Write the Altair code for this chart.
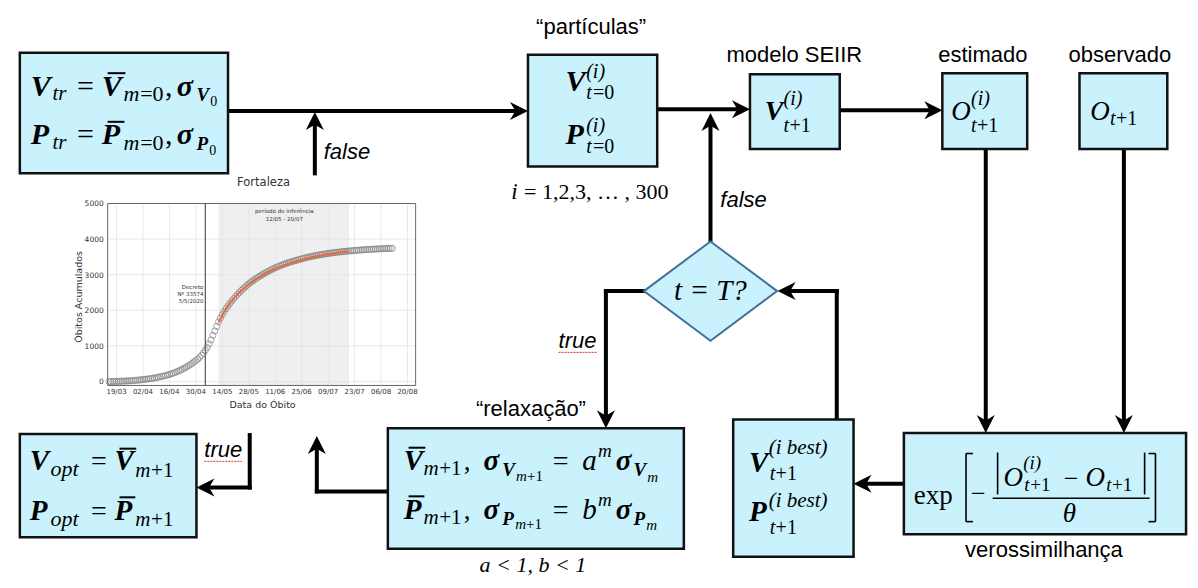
import altair as alt
import pandas as pd

W, H = 1182, 572
SX = alt.Scale(domain=[0, 1198], range=[0, W], nice=False, zero=False)
SY = alt.Scale(domain=[0, 588], range=[0, H], nice=False, zero=False)

FILL = "#C9F2FC"

# ---------------- inset chart data (Fortaleza) ----------------
INSET_DAYS = list(range(-4, 147))
INSET_DEATHS = [0, 1, 2, 3, 5,
                6, 8, 10, 12, 15, 18, 21, 25, 29, 33,
                38, 43, 49, 55, 61, 68, 75, 83, 91, 100,
                110, 120, 131, 143, 156, 170, 185, 200, 218, 236,
                256, 277, 300, 325, 352, 380, 410, 442, 476, 512,
                550, 590, 634, 680, 738, 800, 875, 960, 1060, 1170,
                1295, 1420, 1550, 1680, 1785, 1880, 1968, 2050, 2125, 2195,
                2262, 2325, 2386, 2445, 2501, 2555, 2606, 2655, 2701, 2745,
                2786, 2825, 2862, 2898, 2932, 2965, 2998, 3030, 3060, 3090,
                3118, 3145, 3171, 3195, 3218, 3240, 3261, 3282, 3301, 3320,
                3338, 3355, 3372, 3388, 3403, 3418, 3433, 3447, 3461, 3474,
                3487, 3499, 3511, 3522, 3533, 3543, 3553, 3562, 3571, 3580,
                3589, 3597, 3605, 3612, 3619, 3626, 3633, 3639, 3645, 3651,
                3657, 3662, 3667, 3672, 3677, 3681, 3686, 3690, 3694, 3698,
                3702, 3705, 3709, 3712, 3715, 3718, 3721, 3724, 3726, 3729,
                3731, 3734, 3736, 3738, 3740, 3742]
FIT_DAYS = [54, 57, 60, 64, 68, 72, 76, 80, 84, 88, 92, 96, 100, 104, 108, 112, 116, 120, 123]
FIT_VALUES = [1660, 1960, 2200, 2450, 2650, 2810, 2950, 3070, 3170, 3255, 3330, 3395, 3450, 3500, 3540, 3578, 3610, 3640, 3660]
XTICK_DAYS = [0, 14, 28, 42, 56, 70, 84, 98, 112, 126, 140, 154]
XTICK_LABELS = ["19/03", "02/04", "16/04", "30/04", "14/05", "28/05", "11/06", "25/06", "09/07", "23/07", "06/08", "20/08"]
YTICKS = [0, 1000, 2000, 3000, 4000, 5000]
INFER_PERIOD = [54, 123]
DECRETO_DAY = 47
FRAME = [-4.7, 158.3, -110, 5000]

# inset placement (reference pixels)
IX0, IPX, IY0, IPY = 110, 1.915, 384, 0.0366

# ---------------- diagram data ----------------
BOXES = [(12, 46, 223, 170), (527, 48, 658, 163), (752, 68, 843, 145), (947, 67, 1033, 145),
         (1086, 67, 1175, 145), (908, 437, 1194, 541), (735, 423, 857, 564), (385, 432, 685, 556),
         (12, 438, 191, 544)]
LINES = [(223, 106, 518, 106), (311, 170, 311, 116), (658, 104, 743, 104), (712, 240, 712, 117),
         (843, 105, 938, 105), (991, 145, 991, 428), (1131, 145, 1131, 428), (908, 489, 866, 489),
         (840, 423, 840, 291), (840, 291, 789, 291), (645, 291, 606, 291), (606, 291, 606, 423),
         (385, 497, 313, 497), (313, 497, 313, 449), (245, 439, 245, 493), (245, 493, 200, 493)]
HEADS = [(527, 106, 0), (311, 107, 270), (752, 104, 0), (712, 108, 270), (947, 105, 0),
         (991, 437, 90), (1131, 437, 90), (857, 489, 180), (780, 291, 180), (606, 432, 90),
         (313, 440, 270), (191, 493, 180)]
THIN = [(971, 458, 971, 528), (971, 458, 978, 458), (971, 528, 978, 528),
        (1163, 458, 1163, 528), (1156, 458, 1163, 458), (1156, 528, 1163, 528),
        (1003, 457, 1003, 500), (1152, 457, 1152, 500), (998, 504, 1157, 504)]
BARS = [(101, 119, 67), (101, 118, 117), (406, 423, 452), (406, 422, 502), (113, 130, 453), (113, 129, 503)]
SQUIGGLES = [(558, 354, 597, 354), (199, 466, 237, 466)]
DIAMOND = (712, 291)

PIECES = [
    # initial box
    ("V", 23, 90, 30, "bi", "left"), ("tr", 45, 95, 21, "i", "left"), ("=", 70, 90, 30, "n", "left"),
    ("V", 95, 90, 30, "bi", "left"), ("m", 117, 96, 22, "i", "left"), ("=0", 134, 96, 22, "n", "left"),
    (",", 159, 90, 30, "n", "left"), ("σ", 171, 90, 30, "bi", "left"), ("V", 191, 96, 19, "bi", "left"),
    ("0", 205, 101, 14, "n", "left"),
    ("P", 23, 140, 30, "bi", "left"), ("tr", 45, 145, 21, "i", "left"), ("=", 70, 140, 30, "n", "left"),
    ("P", 95, 140, 30, "bi", "left"), ("m", 117, 146, 22, "i", "left"), ("=0", 134, 146, 22, "n", "left"),
    (",", 159, 140, 30, "n", "left"), ("σ", 171, 140, 30, "bi", "left"), ("P", 191, 146, 19, "bi", "left"),
    ("0", 204, 151, 14, "n", "left"),
    # particles
    ("V", 565, 85, 30, "bi", "left"), ("(i)", 586, 72, 20, "i", "left"), ("t", 586, 94, 20, "i", "left"),
    ("=0", 593, 94, 20, "n", "left"),
    ("P", 565, 140, 30, "bi", "left"), ("(i)", 586, 127, 20, "i", "left"), ("t", 586, 149, 20, "i", "left"),
    ("=0", 593, 149, 20, "n", "left"),
    ("i", 510, 196, 23, "i", "left"), ("= 1,2,3, … , 300", 523, 196, 22, "n", "left"),
    # SEIIR
    ("V", 767, 115, 28, "bi", "left"), ("(i)", 786, 100, 20, "i", "left"), ("t", 786, 127, 20, "i", "left"),
    ("+1", 792, 127, 20, "n", "left"),
    # estimado
    ("O", 956, 115, 27, "i", "left"), ("(i)", 976, 100, 20, "i", "left"), ("t", 976, 127, 20, "i", "left"),
    ("+1", 982, 127, 20, "n", "left"),
    # observado
    ("O", 1097, 115, 27, "i", "left"), ("t", 1117, 120, 20, "i", "left"), ("+1", 1123, 120, 20, "n", "left"),
    # diamond
    ("t = T?", 712, 300, 29, "i", "center"),
    # relaxacao
    ("V", 401, 475, 29, "bi", "left"), ("m", 421, 480, 21, "i", "left"), ("+1", 437, 480, 21, "n", "left"),
    (",", 462, 475, 27, "n", "left"), ("σ", 482, 475, 29, "bi", "left"), ("V", 501, 481, 19, "bi", "left"),
    ("m", 515, 486, 15, "i", "left"), ("+1", 526, 486, 15, "n", "left"), ("=", 552, 475, 28, "n", "left"),
    ("a", 582, 475, 29, "i", "left"), ("m", 598, 462, 19, "i", "left"), ("σ", 616, 475, 29, "bi", "left"),
    ("V", 634, 481, 19, "bi", "left"), ("m", 648, 487, 15, "i", "left"),
    ("P", 401, 525, 29, "bi", "left"), ("m", 421, 530, 21, "i", "left"), ("+1", 437, 530, 21, "n", "left"),
    (",", 462, 525, 27, "n", "left"), ("σ", 482, 525, 29, "bi", "left"), ("P", 501, 531, 19, "bi", "left"),
    ("m", 514, 536, 15, "i", "left"), ("+1", 525, 536, 15, "n", "left"), ("=", 552, 525, 28, "n", "left"),
    ("b", 582, 525, 29, "i", "left"), ("m", 598, 512, 19, "i", "left"), ("σ", 616, 525, 29, "bi", "left"),
    ("P", 634, 531, 19, "bi", "left"), ("m", 647, 537, 15, "i", "left"),
    ("a < 1, b < 1", 532, 580, 22, "i", "center"),
    # optimum
    ("V", 22, 475, 29, "bi", "left"), ("opt", 43, 481, 22, "i", "left"), ("=", 84, 475, 28, "n", "left"),
    ("V", 108, 475, 29, "bi", "left"), ("m", 129, 482, 21, "i", "left"), ("+1", 145, 482, 21, "n", "left"),
    ("P", 22, 526, 29, "bi", "left"), ("opt", 43, 532, 22, "i", "left"), ("=", 84, 526, 28, "n", "left"),
    ("P", 108, 526, 29, "bi", "left"), ("m", 129, 533, 21, "i", "left"), ("+1", 145, 533, 21, "n", "left"),
    # best
    ("V", 751, 477, 29, "bi", "left"), ("(i best)", 771, 458, 21, "i", "left"), ("t", 772, 485, 20, "i", "left"),
    ("+1", 778, 485, 20, "n", "left"),
    ("P", 751, 527, 29, "bi", "left"), ("(i best)", 771, 513, 21, "i", "left"), ("t", 772, 541, 20, "i", "left"),
    ("+1", 778, 541, 20, "n", "left"),
    # likelihood
    ("exp", 918, 510, 27, "n", "left"), ("−", 976, 508, 26, "n", "left"),
    ("O", 1009, 491, 27, "i", "left"), ("(i)", 1029, 474, 19, "i", "left"), ("t", 1030, 497, 19, "i", "left"),
    ("+1", 1036, 497, 19, "n", "left"), ("−", 1070, 492, 26, "n", "left"),
    ("O", 1092, 491, 27, "i", "left"), ("t", 1113, 497, 19, "i", "left"), ("+1", 1119, 497, 19, "n", "left"),
    ("θ", 1069, 528, 27, "i", "left"),
    # labels
    ("“partículas”", 591, 27, 22, "s", "center"), ("modelo SEIIR", 797, 56, 22, "s", "center"),
    ("estimado", 988, 56, 22, "s", "center"), ("observado", 1127, 56, 22, "s", "center"),
    ("“relaxação”", 530, 419, 22, "s", "center"), ("verossimilhança", 1050, 564, 22, "s", "center"),
    ("false", 320, 155, 22, "si", "left"), ("false", 722, 205, 22, "si", "left"),
    ("true", 558, 350, 22, "si", "left"), ("true", 199, 462, 22, "si", "left"),
]

FONTS = {
    "bi": dict(font="Liberation Serif", fontWeight="bold", fontStyle="italic"),
    "i": dict(font="Liberation Serif", fontStyle="italic"),
    "n": dict(font="Liberation Serif"),
    "s": dict(font="Liberation Sans"),
    "si": dict(font="Liberation Sans", fontStyle="italic"),
}


def X(f="x"):
    return alt.X(f"{f}:Q", scale=SX, axis=None)


def Y(f="y"):
    return alt.Y(f"{f}:Q", scale=SY, axis=None)


def seg_df(rows):
    return pd.DataFrame(rows, columns=["x", "y", "x2", "y2"])


layers = []

# ---------------- inset ----------------
calc = dict(px=f"{IX0} + datum.d * {IPX}", py=f"{IY0} - datum.v * {IPY}")

shade = pd.DataFrame([{"d": INFER_PERIOD[0], "d2": INFER_PERIOD[1], "v": FRAME[2], "v2": FRAME[3]}])
layers.append(alt.Chart(shade).transform_calculate(
    px=f"{IX0} + datum.d * {IPX}", px2=f"{IX0} + datum.d2 * {IPX}",
    py=f"{IY0} - datum.v * {IPY}", py2=f"{IY0} - datum.v2 * {IPY}"
).mark_rect(fill="#efefef").encode(x=X("px"), x2="px2:Q", y=Y("py"), y2="py2:Q"))

vgrid = pd.DataFrame({"d": XTICK_DAYS, "v": FRAME[2], "v2": FRAME[3]})
layers.append(alt.Chart(vgrid).transform_calculate(
    px=f"{IX0} + datum.d * {IPX}", py=f"{IY0} - datum.v * {IPY}", py2=f"{IY0} - datum.v2 * {IPY}"
).mark_rule(color="#e3e3e3", strokeWidth=0.8).encode(x=X("px"), y=Y("py"), y2="py2:Q"))

hgrid = pd.DataFrame({"v": YTICKS, "d": FRAME[0], "d2": FRAME[1]})
layers.append(alt.Chart(hgrid).transform_calculate(
    px=f"{IX0} + datum.d * {IPX}", px2=f"{IX0} + datum.d2 * {IPX}", py=f"{IY0} - datum.v * {IPY}"
).mark_rule(color="#e3e3e3", strokeWidth=0.8).encode(x=X("px"), x2="px2:Q", y=Y("py")))

frame = pd.DataFrame([{"d": FRAME[0], "d2": FRAME[1], "v": FRAME[2], "v2": FRAME[3]}])
layers.append(alt.Chart(frame).transform_calculate(
    px=f"{IX0} + datum.d * {IPX}", px2=f"{IX0} + datum.d2 * {IPX}",
    py=f"{IY0} - datum.v * {IPY}", py2=f"{IY0} - datum.v2 * {IPY}"
).mark_rect(fill=None, stroke="#666", strokeWidth=1).encode(x=X("px"), x2="px2:Q", y=Y("py"), y2="py2:Q"))

dec = pd.DataFrame([{"d": DECRETO_DAY, "v": FRAME[2], "v2": FRAME[3]}])
layers.append(alt.Chart(dec).transform_calculate(
    px=f"{IX0} + datum.d * {IPX}", py=f"{IY0} - datum.v * {IPY}", py2=f"{IY0} - datum.v2 * {IPY}"
).mark_rule(color="#555", strokeWidth=1.2).encode(x=X("px"), y=Y("py"), y2="py2:Q"))

obs = pd.DataFrame({"d": INSET_DAYS, "v": INSET_DEATHS})
layers.append(alt.Chart(obs).transform_calculate(**calc).mark_point(
    shape="circle", filled=False, color="#808080", strokeWidth=0.7, size=38, opacity=1
).encode(x=X("px"), y=Y("py")))

fit = pd.DataFrame({"d": FIT_DAYS, "v": FIT_VALUES})
layers.append(alt.Chart(fit).transform_calculate(**calc).mark_line(
    color="#E5683E", strokeWidth=2).encode(x=X("px"), y=Y("py"), order="d:Q"))

xl = pd.DataFrame({"d": XTICK_DAYS, "t": XTICK_LABELS})
layers.append(alt.Chart(xl).transform_calculate(px=f"{IX0} + datum.d * {IPX}", py="397").mark_text(
    font="DejaVu Sans", fontSize=7, color="#333", align="center", baseline="alphabetic"
).encode(x=X("px"), y=Y("py"), text="t:N"))

yl = pd.DataFrame({"v": YTICKS, "t": [str(v) for v in YTICKS]})
layers.append(alt.Chart(yl).transform_calculate(px="97", py=f"{IY0} + 3 - datum.v * {IPY}").mark_text(
    font="DejaVu Sans", fontSize=7.5, color="#333", align="right", baseline="alphabetic"
).encode(x=X("px"), y=Y("py"), text="t:N"))

inset_notes = pd.DataFrame({
    "d": [88.8, 88.8, 46, 46, 46],
    "v": [4720, 4500, 2600, 2410, 2220],
    "t": ["período de inferência", "12/05 - 20/07", "Decreto", "Nº 33574", "5/5/2020"],
    "al": ["center", "center", "right", "right", "right"],
})
for al, g in inset_notes.groupby("al"):
    layers.append(alt.Chart(g).transform_calculate(**calc).mark_text(
        font="DejaVu Sans", fontSize=5.5, color="#333", align=al, baseline="alphabetic"
    ).encode(x=X("px"), y=Y("py"), text="t:N"))

titles = pd.DataFrame({"x": [259, 258], "y": [183, 411], "t": ["Fortaleza", "Data do Óbito"], "s": [11.5, 9.5]})
layers.append(alt.Chart(titles).mark_text(font="DejaVu Sans", color="#333", align="center", baseline="alphabetic").encode(
    x=X(), y=Y(), text="t:N", size=alt.Size("s:Q", scale=None)))
ytitle = pd.DataFrame({"x": [72], "y": [297], "t": ["Óbitos Acumulados"]})
layers.append(alt.Chart(ytitle).mark_text(font="DejaVu Sans", fontSize=9.5, color="#333", angle=270,
                                          align="center", baseline="middle").encode(x=X(), y=Y(), text="t:N"))

# ---------------- diagram ----------------
layers.append(alt.Chart(seg_df(LINES)).mark_rule(color="black", strokeWidth=4, strokeCap="square").encode(
    x=X(), y=Y(), x2="x2:Q", y2="y2:Q"))

ARROW = "M0,0L-1,-0.5L-0.7,0L-1,0.5Z"
heads = pd.DataFrame(HEADS, columns=["x", "y", "a"])
layers.append(alt.Chart(heads).mark_point(shape=ARROW, filled=True, color="black", opacity=1, size=1296).encode(
    x=X(), y=Y(), angle=alt.Angle("a:Q", scale=None)))

boxes = pd.DataFrame(BOXES, columns=["x", "y", "x2", "y2"])
layers.append(alt.Chart(boxes).mark_rect(fill=FILL, stroke="#111", strokeWidth=2.5).encode(
    x=X(), y=Y(), x2="x2:Q", y2="y2:Q"))

DIAMOND_PATH = "M0,-0.745L1,0L0,0.745L-1,0Z"
dia = pd.DataFrame([{"x": DIAMOND[0], "y": DIAMOND[1]}])
layers.append(alt.Chart(dia).mark_point(shape=DIAMOND_PATH, filled=True, fill=FILL, stroke="#41719C",
                                        strokeWidth=2, opacity=1, size=17742).encode(x=X(), y=Y()))

layers.append(alt.Chart(seg_df(THIN)).mark_rule(color="black", strokeWidth=1.6).encode(
    x=X(), y=Y(), x2="x2:Q", y2="y2:Q"))
bars = pd.DataFrame(BARS, columns=["x", "x2", "y"])
layers.append(alt.Chart(bars).mark_rule(color="black", strokeWidth=2).encode(x=X(), x2="x2:Q", y=Y()))
layers.append(alt.Chart(seg_df(SQUIGGLES)).mark_rule(color="#e03030", strokeWidth=1, strokeDash=[2, 1]).encode(
    x=X(), y=Y(), x2="x2:Q", y2="y2:Q"))

pieces = pd.DataFrame(PIECES, columns=["t", "x", "y", "s", "fk", "al"])
for (fk, al), g in pieces.groupby(["fk", "al"]):
    layers.append(alt.Chart(g).mark_text(color="black", align=al, baseline="alphabetic", **FONTS[fk]).encode(
        x=X(), y=Y(), text="t:N", size=alt.Size("s:Q", scale=None)))

chart = alt.layer(*layers).properties(
    width=W, height=H, padding=0, autosize=alt.AutoSizeParams(type="none"), background="white"
).configure_view(stroke=None)

chart.save("out.html", embed_options={"renderer": "svg", "actions": False})
